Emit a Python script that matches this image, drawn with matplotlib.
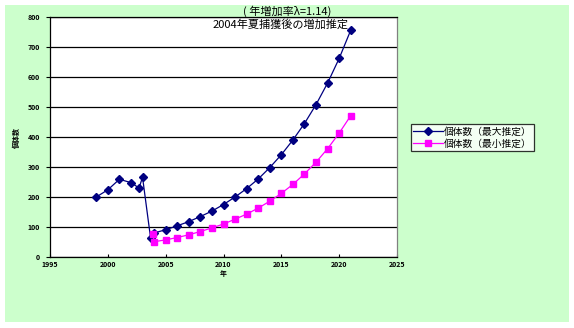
import matplotlib.pyplot as plt
import matplotlib.patches as mpatches

plt.rcParams['font.family'] = ['Noto Sans CJK JP', 'DejaVu Sans']

# population estimates (upper / lower)
yr_max = [1999, 2000, 2001, 2002, 2002.7, 2003, 2003.7, 2004, 2005, 2006, 2007, 2008,
          2009, 2010, 2011, 2012, 2013, 2014, 2015, 2016, 2017, 2018, 2019, 2020, 2021]
n_max = [200, 224, 259, 248, 230, 266, 62, 80, 91, 104, 118, 135,
         153, 175, 200, 228, 260, 298, 341, 390, 445, 508, 580, 662, 756]

yr_min = [2003.9, 2004, 2005, 2006, 2007, 2008, 2009, 2010, 2011, 2012, 2013,
          2014, 2015, 2016, 2017, 2018, 2019, 2020, 2021]
n_min = [77, 51, 57, 65, 74, 85, 97, 110, 126, 143, 163,
         186, 212, 242, 277, 316, 361, 413, 471]

x_ticks = [1995, 2000, 2005, 2010, 2015, 2020, 2025]
y_ticks = [0, 100, 200, 300, 400, 500, 600, 700, 800]

W, H = 574, 328
fig = plt.figure(figsize=(W / 100, H / 100), dpi=100)
fig.patch.set_facecolor('white')

# light green chart area, kept behind the axes
fig.patches.append(mpatches.Rectangle((5 / W, 1 - 322 / H), 564 / W, 317 / H,
                                      transform=fig.transFigure, facecolor='#CCFFCC',
                                      edgecolor='none', zorder=-5))

ax = fig.add_axes([50 / W, 1 - 257 / H, 347 / W, 240 / H])
ax.set_zorder(1)
ax.set_facecolor('white')

ax.plot(yr_max, n_max, color='#000080', lw=0.9, marker='D', ms=4.5,
        mfc='#000080', mec='#000080', label='個体数（最大推定）', zorder=3)
ax.plot(yr_min, n_min, color='#FF00FF', lw=0.9, marker='s', ms=5,
        mfc='#FF00FF', mec='#FF00FF', label='個体数（最小推定）', zorder=4)

ax.set_xlim(1995, 2025)
ax.set_ylim(0, 800)
ax.set_xticks(x_ticks)
ax.set_yticks(y_ticks)
ax.grid(axis='y', color='black', lw=0.9)
ax.set_axisbelow(True)
for s in ['left', 'bottom', 'top']:
    ax.spines[s].set_color('black')
    ax.spines[s].set_linewidth(0.9)
ax.spines['right'].set_color('#808080')
ax.spines['right'].set_linewidth(0.9)

ax.tick_params(axis='x', direction='in', length=2, width=0.8, labelsize=5, pad=3)
ax.tick_params(axis='y', direction='out', length=3, width=0.8, labelsize=5, pad=4)
for lbl in ax.get_xticklabels() + ax.get_yticklabels():
    lbl.set_fontweight('bold')

ax.set_xlabel('年', fontsize=5, fontweight='bold', labelpad=1)
ax.set_ylabel('個体数', fontsize=5, fontweight='bold', labelpad=6)

fig.text(287 / W, 1 - 11.5 / H, '( 年増加率λ=1.14)', fontsize=8,
         ha='center', va='center', zorder=5)
fig.text(281 / W, 1 - 24.5 / H, '2004年夏捕獲後の増加推定', fontsize=8,
         ha='center', va='center', zorder=5)

leg = fig.legend(loc='upper left', bbox_to_anchor=(411 / W, 1 - 124 / H),
                 fontsize=7, frameon=True, fancybox=False, borderpad=0.25,
                 handlelength=3, handletextpad=0.1, labelspacing=0.2,
                 borderaxespad=0)
leg.get_frame().set_edgecolor('black')
leg.get_frame().set_linewidth(0.9)

plt.savefig('out.png', dpi=100)
